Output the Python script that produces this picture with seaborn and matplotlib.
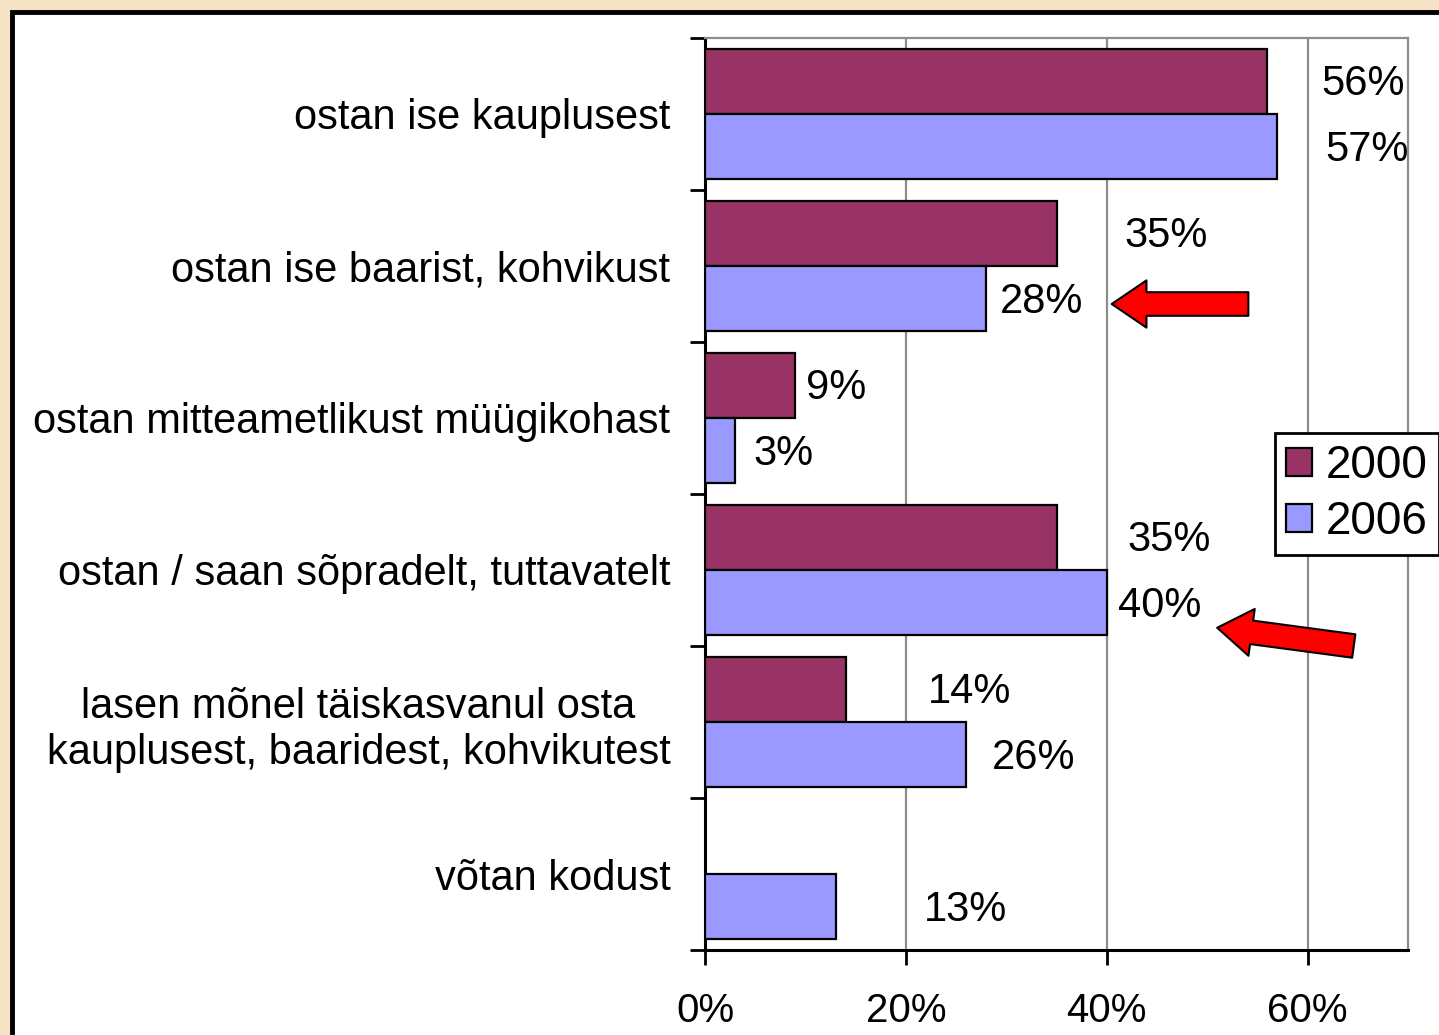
import matplotlib
matplotlib.use('Agg')
import numpy as np
import pandas as pd
import matplotlib.pyplot as plt
import seaborn as sns
from matplotlib.patches import Rectangle, Patch, FancyArrowPatch

# Andmed
categories = [
    'ostan ise kauplusest',
    'ostan ise baarist, kohvikust',
    'ostan mitteametlikust müügikohast',
    'ostan / saan sõpradelt, tuttavatelt',
    'lasen mõnel täiskasvanul osta\nkauplusest, baaridest, kohvikutest',
    'võtan kodust',
]
years = ['2000', '2006']
values_2000 = [56, 35, 9, 35, 14, np.nan]
values_2006 = [57, 28, 3, 40, 26, 13]
colors = ['#993366', '#9999FF']
x_ticks = [0, 20, 40, 60]
x_tick_labels = ['0%', '20%', '40%', '60%']

# sildid on Excelis käsitsi nihutatud (protsendipunktides)
label_dx_2000 = [9.5, 10.9, 4.1, 11.2, 12.3, 0]
label_dx_2006 = [8.9, 5.5, 4.8, 5.3, 6.7, 12.9]

df = pd.DataFrame({
    'kategooria': categories * 2,
    'aasta': [years[0]] * len(categories) + [years[1]] * len(categories),
    'osakaal': values_2000 + values_2006,
})

sns.set_theme(style='white')
plt.rcParams['font.family'] = ['Liberation Sans', 'DejaVu Sans']
plt.rcParams['text.color'] = 'black'
plt.rcParams['xtick.color'] = 'black'
plt.rcParams['ytick.color'] = 'black'

W, H = 1439, 1035
fig = plt.figure(figsize=(W / 100, H / 100), dpi=100)
fig.patch.set_facecolor('#f6e3c6')
fig.add_artist(Rectangle((12 / W, -0.02), 1.0, 1 - 12 / H + 0.02,
                         transform=fig.transFigure, facecolor='white',
                         edgecolor='black', lw=3.5, zorder=0))

ax = fig.add_axes([705 / W, 1 - 950 / H, (1408 - 705) / W, (950 - 38) / H])
ax.set_facecolor('white')

sns.barplot(data=df, y='kategooria', x='osakaal', hue='aasta', orient='h',
            palette=colors, saturation=1, width=0.86, edgecolor='black',
            linewidth=1.6, legend=False, ax=ax, zorder=3)

ax.set_xlim(0, 70)
ax.set_ylim(len(categories) - 0.5, -0.5)
ax.set_xlabel('')
ax.set_ylabel('')

# ruudustik
for x in x_ticks[1:]:
    ax.axvline(x, color='#8c8c8c', lw=1.6, zorder=1)

for side in ['left', 'bottom']:
    ax.spines[side].set_color('black')
    ax.spines[side].set_linewidth(2.2)
for side in ['top', 'right']:
    ax.spines[side].set_color('#8c8c8c')
    ax.spines[side].set_linewidth(1.6)

ax.set_xticks(x_ticks)
ax.set_xticklabels(x_tick_labels, fontsize=29, color='black')
ax.tick_params(axis='x', direction='out', length=11, width=2, color='black',
               pad=19, bottom=True)

ax.set_yticks(range(len(categories)))
ax.set_yticklabels(categories, fontsize=30, color='black',
                   multialignment='center')
ax.tick_params(axis='y', length=0, pad=25)
ax.set_yticks(np.arange(-0.5, len(categories)), minor=True)
ax.tick_params(axis='y', which='minor', direction='out', length=11, width=2,
               color='black', left=True)

# andmesildid
for cont, vals, dxs in zip(ax.containers, [values_2000, values_2006],
                           [label_dx_2000, label_dx_2006]):
    for bar, v, dx in zip(cont.patches, vals, dxs):
        if np.isnan(v):
            continue
        yc = bar.get_y() + bar.get_height() / 2
        ax.text(v + dx, yc + 0.02, f'{v:.0f}%', ha='center', va='center',
                fontsize=30, color='black', zorder=5)

# legend
handles = [Patch(facecolor=c, edgecolor='black', lw=1.6) for c in colors]
leg = ax.legend(handles, years, loc='upper left',
                bbox_to_anchor=(1275 / W, 1 - 433 / H),
                bbox_transform=fig.transFigure, fontsize=33, frameon=True,
                fancybox=False, edgecolor='black', framealpha=1,
                handlelength=0.55, handleheight=0.55, handletextpad=0.3,
                borderpad=0.25, labelspacing=0.25, borderaxespad=0)
leg.get_frame().set_linewidth(2)
for t in leg.get_texts():
    t.set_color('black')

# punased nooled
arrow_style = 'simple,head_length=25,head_width=34,tail_width=17'
for tail, tip in [((54.1, 1.25), (40.5, 1.25)), ((64.6, 3.50), (51.0, 3.38))]:
    arr = FancyArrowPatch(posA=tail, posB=tip, arrowstyle=arrow_style,
                          mutation_scale=1, shrinkA=0, shrinkB=0,
                          facecolor='#ff0000', edgecolor='black', lw=1.5,
                          zorder=6, clip_on=False)
    ax.add_patch(arr)

fig.savefig('out.png', dpi=100, facecolor=fig.get_facecolor())
